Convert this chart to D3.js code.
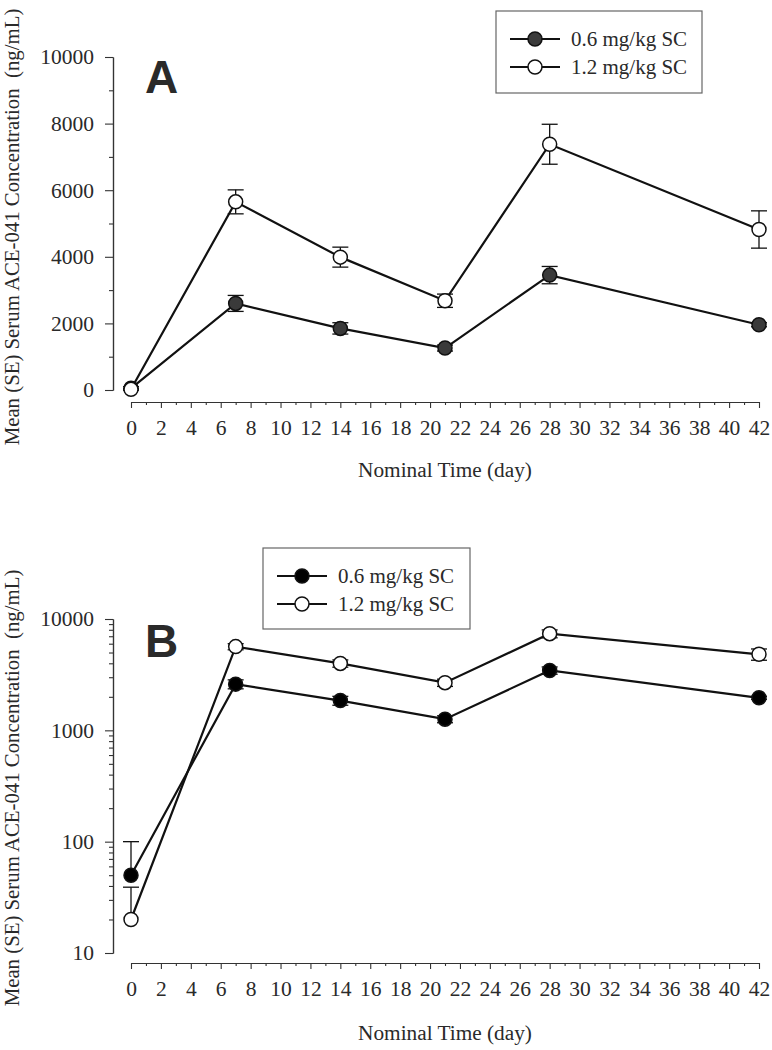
<!DOCTYPE html>
<html><head><meta charset="utf-8">
<script src="https://cdn.jsdelivr.net/npm/d3@7"></script>
<style>
body{margin:0;background:#fff;}
svg{display:block;}
text{font-family:"Liberation Serif","Times New Roman",serif;fill:#2a2a2a;}
</style></head>
<body>
<svg id="chart" width="772" height="1050"></svg>
<script>
// ---- data ----
const days = [0, 7, 14, 21, 28, 42];
const lowDoseMean = [50, 2600, 1850, 1260, 3450, 1960];
const lowDoseSE   = [50, 240, 170, 90, 260, 60];
const highDoseMean = [20, 5650, 3990, 2680, 7380, 4820];
const highDoseSE   = [19, 360, 300, 200, 600, 560];
const seriesNames = ["0.6 mg/kg SC", "1.2 mg/kg SC"];
const xTickValues = [0,2,4,6,8,10,12,14,16,18,20,22,24,26,28,30,32,34,36,38,40,42];
const yTicksLinear = [0, 2000, 4000, 6000, 8000, 10000];
const yTicksLog = [10, 100, 1000, 10000];
const xTitle = "Nominal Time (day)";
const yTitle = "Mean (SE) Serum ACE-041 Concentration  (ng/mL)";

const svg = d3.select("#chart");
const axisColor = "#333";

function panel(cfg) {
  const g = svg.append("g");
  const x = d3.scaleLinear().domain([0, 42]).range([131, 759]);
  const y = cfg.y;

  // y axis major
  const yAx = g.append("g").attr("transform", "translate(113,0)")
    .call(d3.axisLeft(y).tickValues(cfg.yMajor).tickSize(8).tickSizeOuter(0).tickPadding(11)
      .tickFormat(d3.format("d")));
  const yMin = g.append("g").attr("transform", "translate(113,0)")
    .call(d3.axisLeft(y).tickValues(cfg.yMinor).tickSize(4).tickSizeOuter(0).tickFormat(""));
  [yAx, yMin].forEach(a => {
    a.select(".domain").attr("stroke", axisColor).attr("stroke-width", 1.2);
    a.selectAll(".tick line").attr("stroke", axisColor).attr("stroke-width", 1.1);
  });
  yAx.selectAll(".tick text").style("font-size", "21.5px").style("font-family", "'Liberation Serif',serif").attr("fill", "#2a2a2a");

  // x axis
  const xMinorVals = d3.range(1, 42, 2);
  const xAx = g.append("g").attr("transform", `translate(0,${cfg.xAxisY})`)
    .call(d3.axisBottom(x).tickValues(xTickValues).tickSize(6).tickSizeOuter(0).tickPadding(12)
      .tickFormat(d3.format("d")));
  const xMin = g.append("g").attr("transform", `translate(0,${cfg.xAxisY})`)
    .call(d3.axisBottom(x).tickValues(xMinorVals).tickSize(3).tickSizeOuter(0).tickFormat(""));
  [xAx, xMin].forEach(a => {
    a.select(".domain").attr("stroke", axisColor).attr("stroke-width", 1.2);
    a.selectAll(".tick line").attr("stroke", axisColor).attr("stroke-width", 1.1);
  });
  xAx.selectAll(".tick text").style("font-size", "21.5px").style("font-family", "'Liberation Serif',serif").attr("fill", "#2a2a2a");

  // titles
  g.append("text").attr("x", 445).attr("y", cfg.xTitleY).attr("text-anchor", "middle")
    .style("font-size", "21.3px").text(xTitle);
  g.append("text").attr("transform", `translate(19,${cfg.yTitleC}) rotate(-90)`)
    .attr("text-anchor", "middle").style("font-size", "20.8px").style("white-space", "pre")
    .text(yTitle);

  // panel letter
  g.append("text").attr("x", 145).attr("y", cfg.letterY)
    .style("font-family", "'Liberation Sans',Arial,sans-serif").style("font-weight", "bold")
    .style("font-size", "46px").attr("fill", "#111").text(cfg.letter);

  const series = [
    {mean: lowDoseMean, se: lowDoseSE, fill: cfg.filledColor},
    {mean: highDoseMean, se: highDoseSE, fill: "#fff"}
  ];
  const line = d3.line().x(d => x(d.t)).y(d => y(d.v));
  series.forEach(s => {
    const pts = days.map((t, i) => ({t, v: s.mean[i], se: s.se[i]}));
    g.append("path").datum(pts).attr("d", line).attr("fill", "none")
      .attr("stroke", "#111").attr("stroke-width", 2.2);
  });
  series.forEach(s => {
    const pts = days.map((t, i) => ({t, v: s.mean[i], se: s.se[i]}));
    const eb = g.append("g").attr("stroke", "#111").attr("stroke-width", 1.3);
    pts.forEach(p => {
      const cx = x(p.t);
      const top = p.v + p.se, bot = p.v - p.se;
      eb.append("line").attr("x1", cx).attr("x2", cx).attr("y1", y(p.v)).attr("y2", y(top));
      eb.append("line").attr("x1", cx - 8).attr("x2", cx + 8).attr("y1", y(top)).attr("y2", y(top));
      if (bot > cfg.minValid) {
        eb.append("line").attr("x1", cx).attr("x2", cx).attr("y1", y(p.v)).attr("y2", y(bot));
        eb.append("line").attr("x1", cx - 8).attr("x2", cx + 8).attr("y1", y(bot)).attr("y2", y(bot));
      }
    });
    g.append("g").selectAll("circle").data(pts).join("circle")
      .attr("cx", d => x(d.t)).attr("cy", d => y(d.v)).attr("r", 7)
      .attr("fill", s.fill).attr("stroke", "#111").attr("stroke-width", 1.5);
  });

  // legend
  const L = cfg.legend;
  g.append("rect").attr("x", L.x).attr("y", L.y).attr("width", L.w).attr("height", L.h)
    .attr("fill", "#fff").attr("stroke", "#666").attr("stroke-width", 1.2);
  seriesNames.forEach((name, i) => {
    const ry = L.y + 28 + i * 28;
    g.append("line").attr("x1", L.x + 14).attr("x2", L.x + 64).attr("y1", ry).attr("y2", ry)
      .attr("stroke", "#111").attr("stroke-width", 2.2);
    g.append("circle").attr("cx", L.x + 39).attr("cy", ry).attr("r", 7)
      .attr("fill", i === 0 ? cfg.filledColor : "#fff").attr("stroke", "#111").attr("stroke-width", 1.5);
    g.append("text").attr("x", L.x + 75).attr("y", ry + 7).style("font-size", "21px").text(name);
  });
}

// Panel A (linear)
panel({
  letter: "A", letterY: 93,
  y: d3.scaleLinear().domain([0, 10000]).range([390, 57]),
  yMajor: yTicksLinear,
  yMinor: [1000, 3000, 5000, 7000, 9000],
  xAxisY: 402, xTitleY: 477, yTitleC: 227,
  filledColor: "#3a3a3a", minValid: -1,
  legend: {x: 496, y: 11, w: 206, h: 82}
});

// Panel B (log)
const logMinor = [];
[10, 100, 1000].forEach(b => { for (let k = 2; k <= 9; k++) logMinor.push(b * k); });
panel({
  letter: "B", letterY: 657,
  y: d3.scaleLog().domain([10, 10000]).range([953, 619]),
  yMajor: yTicksLog,
  yMinor: logMinor,
  xAxisY: 963, xTitleY: 1040, yTitleC: 788,
  filledColor: "#000", minValid: 10,
  legend: {x: 263, y: 548, w: 207, h: 81}
});
</script>
</body></html>
